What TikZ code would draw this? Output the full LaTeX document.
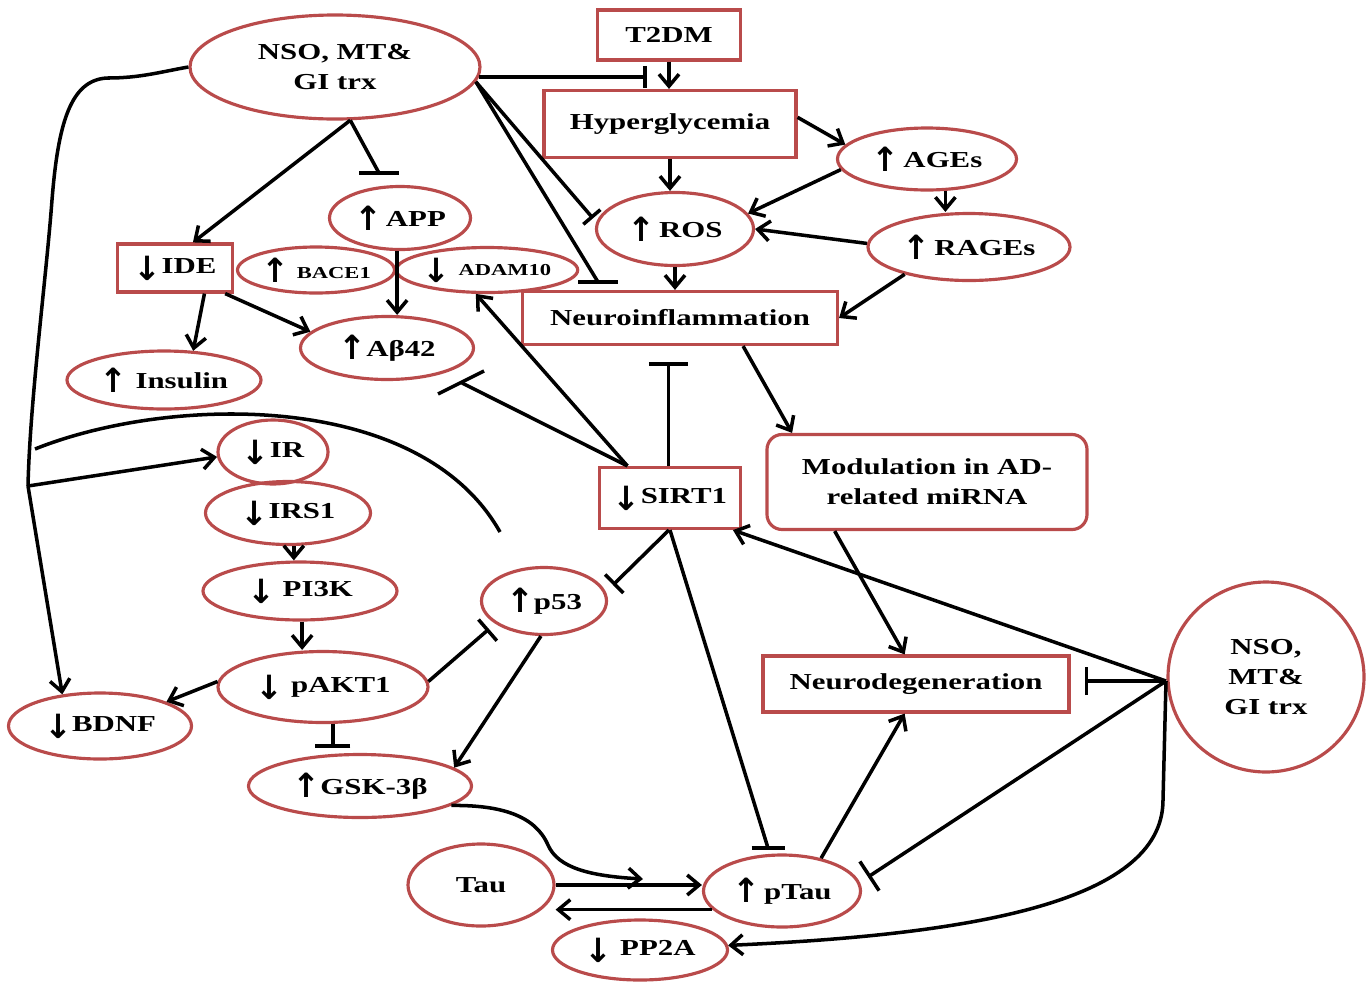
\documentclass[tikz,border=0pt]{standalone}
\usepackage{fontspec}
\setmainfont{Liberation Serif}[FakeStretch=1.35]
\newfontfamily\arrfont{DejaVu Sans}
\newcommand{\myup}{{\arrfont\bfseries\fontsize{19}{17}\selectfont\raisebox{-2pt}{↑}}}
\newcommand{\mydn}{{\arrfont\bfseries\fontsize{19}{17}\selectfont\raisebox{-4pt}{↓}}}
\usetikzlibrary{shapes.geometric,arrows.meta}
\definecolor{nodered}{RGB}{185,75,75}
\begin{document}
\begin{tikzpicture}[x=0.02cm,y=-0.02cm,
  every node/.style={font=\bfseries\fontsize{13}{17}\selectfont, align=center, inner sep=0pt, text=black},
  sz/.style 2 args={minimum width=#1*0.02cm, minimum height=#2*0.02cm},
  ell/.style={ellipse, draw=nodered, line width=1.8pt},
  box/.style={rectangle, draw=nodered, line width=1.8pt},
  ln/.style={line width=2pt, draw=black},
  arr/.style={ln, -{Straight Barb[length=0.24cm,width=0.4cm]}},
  inh/.style={ln, -{Bar[width=#1]}}, inh/.default={0.6cm}
]
\useasboundingbox (0,0) rectangle (1369,981);

% nodes
\node[ell,sz={290}{104}] (nsoA) at (335,67) {NSO, MT\&\\GI trx};
\node[box,sz={143}{50}] (t2dm) at (669,35) {T2DM};
\node[box,sz={252}{67}] (hyper) at (670,124) {Hyperglycemia};
\node[ell,sz={179}{62}] (ages) at (927,159) {\myup\,AGEs};
\node[ell,sz={157}{73}] (ros) at (675,229) {\myup\,ROS};
\node[ell,sz={202}{67}] (rages) at (969,247) {\myup\,RAGEs};
\node[ell,sz={141}{63}] (app) at (400,218) {\myup\,APP};
\node[box,sz={115}{48}] (ide) at (175,268) {\mydn IDE};
\node[ell,sz={157}{46}] (bace) at (316,270) {\myup\ {\fontsize{9.5}{11}\selectfont BACE1}};
\node[ell,sz={180}{45}] (adam) at (487,270) {\mydn\ {\fontsize{9.5}{11}\selectfont ADAM10}};
\node[box,sz={315}{53}] (neuro) at (680,318) {Neuroinflammation};
\node[ell,sz={173}{63}] (abeta) at (387,348) {\myup Aβ42};
\node[ell,sz={194}{58}] (insulin) at (164,380) {\myup\ Insulin};
\node[ell,sz={110}{64}] (ir) at (273,452) {\mydn IR};
\node[ell,sz={165}{63}] (irs) at (288,513) {\mydn IRS1};
\node[ell,sz={194}{58}] (pi3k) at (300,591) {\mydn\ PI3K};
\node[ell,sz={125}{67}] (p53) at (544,601) {\myup p53};
\node[ell,sz={210}{71}] (pakt) at (323,687) {\mydn\ pAKT1};
\node[ell,sz={183}{66}] (bdnf) at (100,726) {\mydn BDNF};
\node[ell,sz={223}{63}] (gsk) at (360,786) {\myup GSK-3β};
\node[box,sz={141}{61}] (sirt) at (670,498) {\mydn SIRT1};
\node[box,rounded corners=0.3cm,sz={320}{95}] (mod) at (927,482) {Modulation in AD-\\related miRNA};
\node[box,sz={306}{56}] (ndeg) at (916,684) {Neurodegeneration};
\node[ell,sz={196}{190}] (nsoB) at (1266,677) {NSO,\\MT\&\\GI trx};
\node[ell,sz={146}{82}] (tau) at (481,885) {Tau};
\node[ell,sz={157}{72}] (ptau) at (782,891) {\myup\,pTau};
\node[ell,sz={175}{60}] (pp2a) at (640,950) {\mydn\ PP2A};

% helper coordinates
\coordinate (br) at (28,486);
\coordinate (m1) at (35,449);
\coordinate (m2) at (500,532);
\coordinate (tb) at (647,0);
\coordinate (appbar) at (379,173);
\coordinate (nbar) at (598,282);
\coordinate (abar) at (462,383);
\coordinate (snb) at (0,362);
\coordinate (p53b) at (613,585);
\coordinate (ptb) at (768,848);
\coordinate (hub) at (1166,681);
\coordinate (ptb2) at (868,877);
\coordinate (p53b2) at (489,629);
\coordinate (gtip) at (643,879);

% left long curve from NSO
\draw[ln] (nsoA.west) .. controls (160,72) and (140,78) .. (108,78)
  .. controls (70,79) and (58,125) .. (52,200)
  .. controls (46,280) and (30,400) .. (br);
\draw[arr] (br) -- (bdnf.140);
\draw[arr] (br) -- (ir.185);
% membrane
\draw[ln] (m1) .. controls (170,395) and (420,390) .. (m2);

% top region
\draw[arr] (t2dm.south) -- (t2dm.south |- hyper.north);
\draw[inh=0.45cm] (nsoA.-4) -- (nsoA.-4 -| tb);
\draw[arr] (nsoA.-74) -- (ide.55);
\draw[ln] (nsoA.-74) -- (appbar);
\draw[ln] ([xshift=-0.4cm]appbar) -- ([xshift=0.4cm]appbar);
\draw[inh=0.45cm, shorten >=0.1cm] (nsoA.-6) -- (ros.175);
\draw[ln] (nsoA.-6) -- (nbar);
\draw[ln] ([xshift=-0.4cm]nbar) -- ([xshift=0.4cm]nbar);
\draw[arr] (hyper.south) -- (hyper.south |- ros.north);
\draw[arr] (hyper.3) -- (ages.170);
\draw[arr] (ages.187) -- (ros.12);
\draw[arr] (ages.-60) -- (ages.-60 |- rages.north);
\draw[arr] (rages.178) -- (ros.east);
\draw[arr] (ros.south) -- (ros.south |- neuro.north);
\draw[arr] (rages.203) -- (neuro.east);
\draw[arr] (app.-95) -- (app.-95 |- abeta.north);
\draw[arr] (ide.-41) -- (insulin.45);
\draw[arr] (ide.-27) -- (abeta.168);

% SIRT1
\draw[arr] (sirt.143) -- (adam.-115);
\draw[ln] (sirt.143) -- (abar);
\draw[ln] ([shift={(-24,11)}]abar) -- ([shift={(22,-12)}]abar);
\draw[inh=0.78cm] (sirt.93) -- (sirt.93 |- snb);
\draw[arr] (neuro.-24) -- (mod.160);
\draw[arr] (mod.-152) -- (ndeg.111);
\draw[inh=0.52cm] (sirt.-92) -- (p53b);
\draw[ln] (sirt.-90) -- (ptb);
\draw[ln] ([xshift=-0.33cm]ptb) -- ([xshift=0.33cm]ptb);

% right NSO
\draw[arr] (hub) -- (sirt.-27);
\draw[inh=0.56cm] (hub) -- ([xshift=0.28cm]ndeg.east |- hub);
\draw[inh=0.7cm] (hub) -- (ptb2);
\draw[arr] (hub) -- (1163,800) .. controls (1163,905) and (960,935) .. (pp2a.3);

% insulin signalling
\draw[arr] (irs.-80) -- (irs.-80 |- pi3k.north);
\draw[arr] (pi3k.-86) -- (pi3k.-86 |- pakt.north);
\draw[arr] (pakt.177) -- (bdnf.20);
\draw[inh=0.56cm] (pakt.3) -- (p53b2);
\draw[arr] (p53.-95) -- (gsk.11);
\draw[inh=0.7cm, shorten >=0.1cm] (pakt.-75) -- (pakt.-75 |- gsk.north);

% tau
\draw[arr] (gsk.-12) .. controls (500,805) and (535,815) .. (548,845)
  .. controls (558,868) and (590,876) .. (gtip);
\draw[arr] (tau.east) -- (tau.east -| ptau.west);
\draw[arr] (ptau.195) -- (ptau.195 -| tau.east);
\draw[arr] (ptau.40) -- (ndeg.-111);
\end{tikzpicture}
\end{document}
